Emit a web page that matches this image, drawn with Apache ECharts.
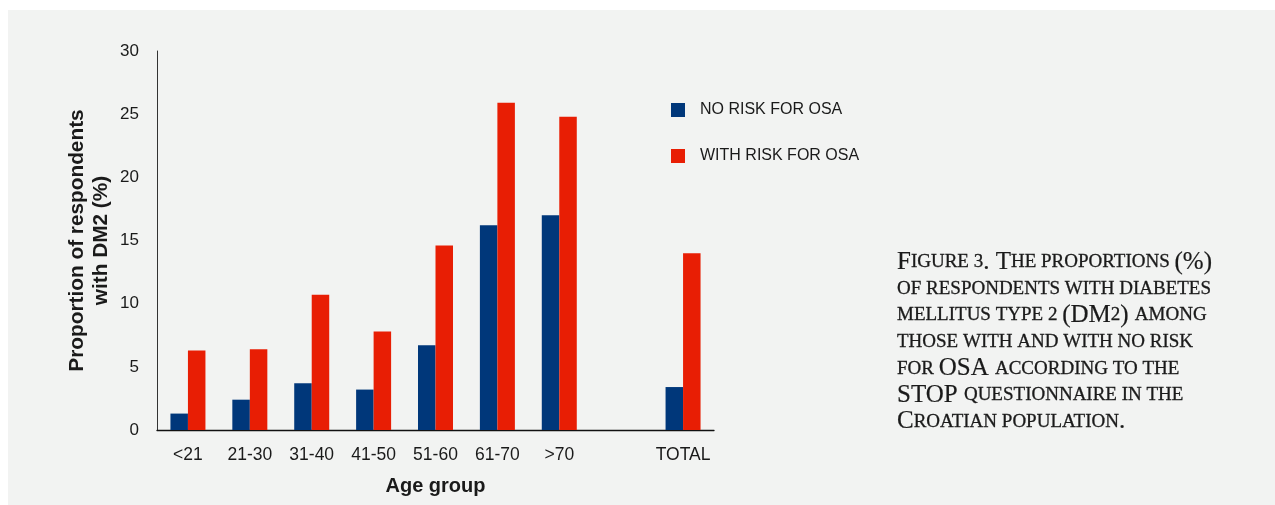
<!DOCTYPE html>
<html>
<head>
<meta charset="utf-8">
<script src="https://cdn.jsdelivr.net/npm/echarts@6/dist/echarts.min.js"></script>
<style>
  html, body { margin: 0; padding: 0; background: #ffffff; }
  #chart { position: absolute; left: 8px; top: 10px; width: 1267px; height: 495px; background: #f2f3f2; }
</style>
</head>
<body>
<div id="chart"></div>
<script>
// Age groups (the blank entry leaves a gap before the total)
const categories = ['<21', '21-30', '31-40', '41-50', '51-60', '61-70', '>70', '', 'TOTAL'];
// Share of respondents with DM2 (%)
const noRiskForOSA = [1.3, 2.4, 3.7, 3.2, 6.7, 16.2, 17.0, null, 3.4];
const withRiskForOSA = [6.3, 6.4, 10.7, 7.8, 14.6, 25.9, 24.8, null, 14.0];
const yTicks = [0, 5, 10, 15, 20, 25, 30];

const captionLines = [
  'Figure 3. The proportions (%)',
  'of respondents with diabetes',
  'mellitus type 2 (DM2) among',
  'those with and with no risk',
  'for OSA according to the',
  'STOP questionnaire in the',
  'Croatian population.'
];

// Small-caps typesetting with rich text: capitals full size, the rest as reduced capitals
function smallCaps(line) {
  let out = '';
  let cur = null, buf = '';
  const flush = () => { if (buf) out += '{' + cur + '|' + buf + '}'; buf = ''; };
  for (const ch of line) {
    let style, c = ch;
    if (/[A-Z]/.test(ch)) style = 'cap';
    else if (/[a-z]/.test(ch)) { style = 'sc'; c = ch.toUpperCase(); }
    else if (/[0-9]/.test(ch)) style = 'sc';
    else if (ch === ' ') style = cur || 'sc';
    else style = 'cap';
    if (style !== cur) { flush(); cur = style; }
    buf += c;
  }
  flush();
  return out;
}

const chart = echarts.init(document.getElementById('chart'), null, { renderer: 'canvas' });
const textColor = '#1a1a1a';
const serif = 'Liberation Serif';

chart.setOption({
  backgroundColor: '#f2f3f2',
  animation: false,
  title: {
    text: captionLines.map(smallCaps).join('\n'),
    left: 889,
    top: 239,
    padding: 0,
    textStyle: {
      color: textColor,
      fontFamily: serif,
      fontWeight: 'normal',
      lineHeight: 26.6,
      rich: {
        cap: { fontFamily: serif, fontSize: 25, color: textColor, lineHeight: 26.6, textBorderColor: textColor, textBorderWidth: 0.2 },
        sc: { fontFamily: serif, fontSize: 19, color: textColor, lineHeight: 26.6, textBorderColor: textColor, textBorderWidth: 0.3 }
      }
    }
  },
  legend: {
    orient: 'vertical',
    left: 663,
    top: 92,
    padding: 0,
    itemWidth: 14,
    itemHeight: 14,
    itemGap: 30,
    icon: 'rect',
    textStyle: {
      fontFamily: 'Liberation Sans',
      fontSize: 16,
      color: textColor,
      padding: [0, 0, 0, 10]
    },
    data: ['NO RISK FOR OSA', 'WITH RISK FOR OSA']
  },
  grid: { left: 149, top: 41, width: 557, height: 379, containLabel: false, outerBoundsMode: 'none' },
  xAxis: {
    type: 'category',
    data: categories,
    axisLine: { show: true, lineStyle: { color: '#111', width: 1.3 } },
    axisTick: { show: false },
    axisLabel: { fontFamily: 'Liberation Sans', fontSize: 17.5, color: textColor, margin: 16, interval: 0 },
    name: 'Age group',
    nameLocation: 'middle',
    nameGap: 46,
    nameTextStyle: { fontFamily: 'Liberation Sans', fontSize: 20, fontWeight: 'bold', color: textColor }
  },
  yAxis: {
    type: 'value',
    min: yTicks[0],
    max: yTicks[yTicks.length - 1],
    interval: yTicks[1] - yTicks[0],
    axisLine: { show: true, lineStyle: { color: '#333', width: 1 } },
    axisTick: { show: false },
    splitLine: { show: false },
    axisLabel: { fontFamily: 'Liberation Sans', fontSize: 17, color: textColor, margin: 18 },
    name: 'Proportion of respondents\nwith DM2 (%)',
    nameLocation: 'middle',
    nameGap: 44,
    nameTextStyle: { fontFamily: 'Liberation Sans', fontSize: 20.8, fontWeight: 'bold', color: textColor, lineHeight: 24, align: 'center' }
  },
  series: [
    {
      name: 'NO RISK FOR OSA',
      type: 'bar',
      data: noRiskForOSA,
      barWidth: 17.5,
      barGap: '0%',
      itemStyle: { color: '#00377a' }
    },
    {
      name: 'WITH RISK FOR OSA',
      type: 'bar',
      data: withRiskForOSA,
      barWidth: 17.5,
      barGap: '0%',
      itemStyle: { color: '#e81e04' }
    }
  ]
});
</script>
</body>
</html>
